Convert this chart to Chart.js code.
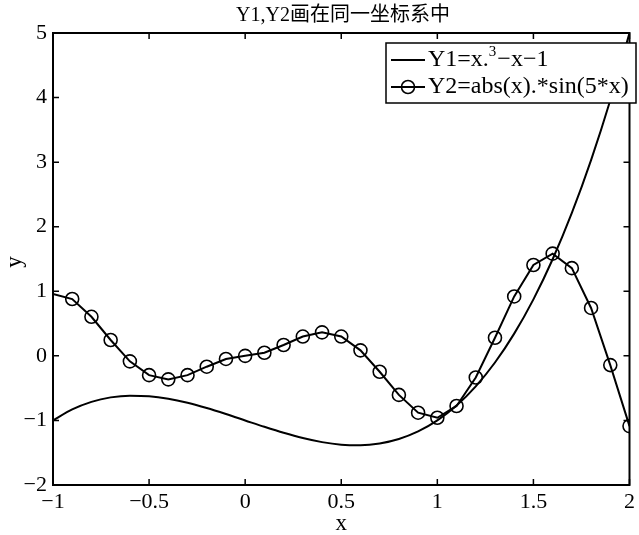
<!DOCTYPE html>
<html>
<head>
<meta charset="utf-8">
<script src="https://cdn.jsdelivr.net/npm/chart.js@4.4.0/dist/chart.umd.min.js"></script>
<style>
html, body { margin: 0; padding: 0; background: #fff; }
#myChart { display: block; }
</style>
</head>
<body>
<canvas id="myChart" width="639" height="535"></canvas>
<script>
// x samples, -1 .. 2 step 0.1
const xs = [-1, -0.9, -0.8, -0.7, -0.6, -0.5, -0.4, -0.3, -0.2, -0.1, 0,
            0.1, 0.2, 0.3, 0.4, 0.5, 0.6, 0.7, 0.8, 0.9, 1,
            1.1, 1.2, 1.3, 1.4, 1.5, 1.6, 1.7, 1.8, 1.9, 2];

// Y1 = x.^3 - x - 1
const y1 = [-1, -0.829, -0.712, -0.643, -0.616, -0.625, -0.664, -0.727, -0.808, -0.901, -1,
            -1.099, -1.192, -1.273, -1.336, -1.375, -1.384, -1.357, -1.288, -1.171, -1,
            -0.769, -0.472, -0.103, 0.344, 0.875, 1.496, 2.213, 3.032, 3.959, 5];

// Y2 = abs(x).*sin(5*x)
const y2 = [0.959, 0.880, 0.605, 0.246, -0.085, -0.299, -0.364, -0.299, -0.168, -0.048, 0,
            0.048, 0.168, 0.299, 0.364, 0.299, 0.085, -0.246, -0.605, -0.880, -0.959,
            -0.776, -0.335, 0.280, 0.920, 1.407, 1.583, 1.358, 0.742, -0.143, -1.088];

const xTicks = [-1, -0.5, 0, 0.5, 1, 1.5, 2];
const yTicks = [-2, -1, 0, 1, 2, 3, 4, 5];

const chartTitle = 'Y1,Y2画在同一坐标系中';
const xLabel = 'x';
const yLabel = 'y';

const serif = '"Liberation Serif", "Times New Roman", "Noto Sans CJK SC", serif';

function fmt(v) {
    return (v < 0 ? '\u2212' : '') + Math.abs(v);
}

// box, inward ticks, title, axis labels and legend (matlab style)
const matlabBox = {
    id: 'matlabBox',
    afterDraw(chart) {
        const ctx = chart.ctx;
        const a = chart.chartArea;
        const sx = chart.scales.x, sy = chart.scales.y;
        ctx.save();
        ctx.strokeStyle = '#000';
        ctx.lineWidth = 2;
        ctx.strokeRect(a.left, a.top, a.right - a.left, a.bottom - a.top);

        ctx.lineWidth = 1.5;
        ctx.beginPath();
        xTicks.forEach(v => {
            const px = sx.getPixelForValue(v);
            ctx.moveTo(px, a.bottom); ctx.lineTo(px, a.bottom - 6);
            ctx.moveTo(px, a.top); ctx.lineTo(px, a.top + 6);
        });
        yTicks.forEach(v => {
            const py = sy.getPixelForValue(v);
            ctx.moveTo(a.left, py); ctx.lineTo(a.left + 6, py);
            ctx.moveTo(a.right, py); ctx.lineTo(a.right - 6, py);
        });
        ctx.stroke();

        // title + axis labels
        ctx.fillStyle = '#000';
        ctx.textAlign = 'center';
        ctx.textBaseline = 'middle';
        ctx.font = '20px ' + serif;
        ctx.fillText(chartTitle, 343, 16);
        ctx.font = '23px ' + serif;
        ctx.fillText(xLabel, (a.left + a.right) / 2, 524);
        ctx.save();
        ctx.translate(15, 262);
        ctx.rotate(-Math.PI / 2);
        ctx.fillText(yLabel, 0, 0);
        ctx.restore();

        // legend
        const lx = 386, ly = 43, lw = 250, lh = 60;
        ctx.fillStyle = '#fff';
        ctx.fillRect(lx, ly, lw, lh);
        ctx.lineWidth = 1.5;
        ctx.strokeRect(lx, ly, lw, lh);

        const r1 = 60, r2 = 87;
        ctx.lineWidth = 2;
        ctx.beginPath();
        ctx.moveTo(391, r1); ctx.lineTo(425, r1);
        ctx.moveTo(391, r2); ctx.lineTo(425, r2);
        ctx.stroke();
        ctx.lineWidth = 1.6;
        ctx.beginPath();
        ctx.arc(408, r2, 6.5, 0, Math.PI * 2);
        ctx.stroke();

        ctx.fillStyle = '#000';
        ctx.textAlign = 'left';
        ctx.font = '24px ' + serif;
        let tx = 428;
        ctx.fillText('Y1=x.', tx, r1);
        tx += ctx.measureText('Y1=x.').width;
        ctx.font = '15px ' + serif;
        ctx.fillText('3', tx, r1 - 8);
        tx += ctx.measureText('3').width + 1;
        ctx.font = '24px ' + serif;
        ctx.fillText('\u2212x\u22121', tx, r1);
        ctx.fillText('Y2=abs(x).*sin(5*x)', 428, r2);
        ctx.restore();
    }
};

const ctx = document.getElementById('myChart');

new Chart(ctx, {
    type: 'line',
    data: {
        datasets: [{
            label: 'Y1=x.^3-x-1',
            data: xs.map((x, i) => ({ x: x, y: y1[i] })),
            borderColor: '#000',
            borderWidth: 2,
            pointRadius: 0,
            cubicInterpolationMode: 'monotone',
            fill: false
        }, {
            label: 'Y2=abs(x).*sin(5*x)',
            data: xs.map((x, i) => ({ x: x, y: y2[i] })),
            borderColor: '#000',
            borderWidth: 2,
            tension: 0,
            // first marker sits on the axis and is not visible in the original
            pointRadius: xs.map((x, i) => i === 0 ? 0 : 6.5),
            pointBorderWidth: 1.6,
            pointBorderColor: '#000',
            pointBackgroundColor: 'rgba(0,0,0,0)',
            fill: false
        }]
    },
    options: {
        responsive: false,
        animation: false,
        layout: { padding: { top: 33, right: 1, left: 0, bottom: 0 } },
        plugins: {
            legend: { display: false },
            title: { display: false },
            tooltip: { enabled: false }
        },
        scales: {
            x: {
                type: 'linear',
                min: -1,
                max: 2,
                afterBuildTicks: s => { s.ticks = xTicks.map(v => ({ value: v })); },
                afterFit: s => { s.height = 50; },
                ticks: {
                    autoSkip: false,
                    maxRotation: 0,
                    padding: 4,
                    color: '#000',
                    font: { family: serif, size: 22 },
                    callback: v => fmt(v)
                },
                grid: { display: false, drawTicks: false },
                border: { color: '#000', width: 2 }
            },
            y: {
                type: 'linear',
                min: -2,
                max: 5,
                afterBuildTicks: s => { s.ticks = yTicks.map(v => ({ value: v })); },
                afterFit: s => { s.width = 53; },
                ticks: {
                    autoSkip: false,
                    padding: 6,
                    color: '#000',
                    font: { family: serif, size: 22 },
                    callback: v => fmt(v)
                },
                grid: { display: false, drawTicks: false },
                border: { color: '#000', width: 2 }
            }
        }
    },
    plugins: [matlabBox]
});
</script>
</body>
</html>
